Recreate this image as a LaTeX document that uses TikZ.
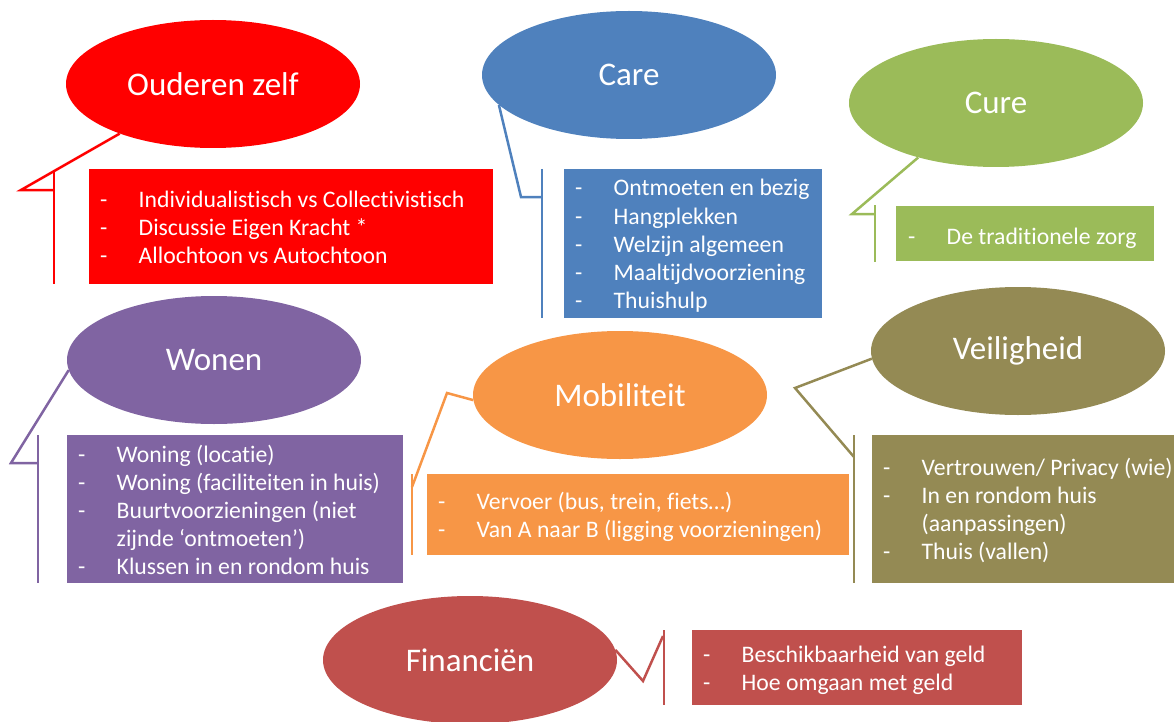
\documentclass[tikz,border=0pt]{standalone}
\usepackage{fontspec}
\setmainfont{Carlito}[Ligatures=NoCommon]
\usetikzlibrary{shapes.geometric}
\definecolor{cRed}{HTML}{FF0000}
\definecolor{cBlue}{HTML}{4F81BD}
\definecolor{cGreen}{HTML}{9BBB59}
\definecolor{cPurple}{HTML}{8064A2}
\definecolor{cOrange}{HTML}{F79646}
\definecolor{cOlive}{HTML}{948A54}
\definecolor{cFin}{HTML}{C0504D}
\newcommand\itm[1]{\makebox[38.5pt][l]{-}#1}
\newcommand\cont[1]{\makebox[38.5pt][l]{}#1}
\begin{document}
\begin{tikzpicture}[x=1pt,y=-1pt,
  ell/.style={ellipse,fill=#1,draw=none,minimum width=294pt,minimum height=128pt,inner sep=0pt,text=white,font=\fontsize{33}{40}\selectfont},
  bbox/.style={rectangle,fill=#1,draw=none,anchor=north west,inner sep=0pt},
  cline/.style={draw=#1,line width=2.5pt,line join=miter},
  item/.style={anchor=base west,text=white,inner sep=0pt,font=\fontsize{23.7}{28}\selectfont},
]
\useasboundingbox (0,0) rectangle (1174,722);

% ---------- Ouderen zelf ----------
\node[ell=cRed] (oz) at (213,84) {Ouderen zelf};
\node[bbox=cRed,minimum width=404pt,minimum height=115pt] (ozb) at (89,169) {};
\coordinate (ozk) at (21,190); \coordinate (ozj) at (54,190);
\coordinate (ozt) at (54,171); \coordinate (ozu) at (54,284);
\draw[cline=cRed] (oz.208) -- (ozk) -- (ozj);
\draw[cline=cRed] (ozt) -- (ozu);
\node[item] (oz1) at (100,207) {\itm{Individualistisch vs Collectivistisch}};
\node[item] (oz2) at (100,235) {\itm{Discussie Eigen Kracht *}};
\node[item] (oz3) at (100,263) {\itm{Allochtoon vs Autochtoon}};

% ---------- Care ----------
\node[ell=cBlue] (care) at (629,75) {Care};
\node[bbox=cBlue,minimum width=258pt,minimum height=149pt] (careb) at (564,169) {};
\coordinate (cak) at (521,197); \coordinate (caj) at (542,197);
\coordinate (cat) at (542,169); \coordinate (cau) at (542,318);
\draw[cline=cBlue] (care.193) -- (cak) -- (caj);
\draw[cline=cBlue] (cat) -- (cau);
\node[item] (ca1) at (575,196) {\itm{Ontmoeten en bezig}};
\node[item] (ca2) at (575,224) {\itm{Hangplekken}};
\node[item] (ca3) at (575,252) {\itm{Welzijn algemeen}};
\node[item] (ca4) at (575,280) {\itm{Maaltijdvoorziening}};
\node[item] (ca5) at (575,308) {\itm{Thuishulp}};

% ---------- Cure ----------
\node[ell=cGreen] (cure) at (996,103) {Cure};
\node[bbox=cGreen,minimum width=258pt,minimum height=55pt] (cureb) at (896,206) {};
\coordinate (cuk) at (852,214); \coordinate (cuj) at (875,214);
\coordinate (cut) at (875,205); \coordinate (cuu) at (875,262);
\draw[cline=cGreen] (cure.215) -- (cuk) -- (cuj);
\draw[cline=cGreen] (cut) -- (cuu);
\node[item] (cu1) at (908,244) {\itm{De traditionele zorg}};

% ---------- Wonen ----------
\node[ell=cPurple] (won) at (214,360) {Wonen};
\node[bbox=cPurple,minimum width=336pt,minimum height=148pt] (wonb) at (67,435) {};
\coordinate (wok) at (11,463); \coordinate (woj) at (38,463);
\coordinate (wot) at (38,435); \coordinate (wou) at (38,583);
\draw[cline=cPurple] (won.184) -- (wok) -- (woj);
\draw[cline=cPurple] (wot) -- (wou);
\node[item] (wo1) at (78,462) {\itm{Woning (locatie)}};
\node[item] (wo2) at (78,490) {\itm{Woning (faciliteiten in huis)}};
\node[item] (wo3) at (78,518) {\itm{Buurtvoorzieningen (niet}};
\node[item] (wo4) at (78,546) {\cont{zijnde ‘ontmoeten’)}};
\node[item] (wo5) at (78,574) {\itm{Klussen in en rondom huis}};

% ---------- Mobiliteit ----------
\node[ell=cOrange] (mob) at (620,395) {Mobiliteit};
\node[bbox=cOrange,minimum width=422pt,minimum height=81pt] (mobb) at (427,474) {};
\coordinate (mok) at (447,393); \coordinate (moj) at (412,487);
\coordinate (mot) at (412,474); \coordinate (mou) at (412,555);
\draw[cline=cOrange] (mob.182) -- (mok) -- (moj);
\draw[cline=cOrange] (mot) -- (mou);
\node[item] (mo1) at (438,509) {\itm{Vervoer (bus, trein, fiets…)}};
\node[item] (mo2) at (438,537) {\itm{Van A naar B (ligging voorzieningen)}};

% ---------- Veiligheid ----------
\node[ell=cOlive] (veil) at (1018,351) {Veiligheid};
\node[bbox=cOlive,minimum width=302pt,minimum height=148pt] (veilb) at (872,435) {};
\coordinate (vek) at (795,388); \coordinate (vej) at (854,457);
\coordinate (vet) at (854,435); \coordinate (veu) at (854,583);
\draw[cline=cOlive] (veil.183) -- (vek) -- (vej);
\draw[cline=cOlive] (vet) -- (veu);
\node[item] (ve1) at (883,475) {\itm{Vertrouwen/ Privacy (wie)}};
\node[item] (ve2) at (883,503) {\itm{In en rondom huis}};
\node[item] (ve3) at (883,531) {\cont{(aanpassingen)}};
\node[item] (ve4) at (883,559) {\itm{Thuis (vallen)}};

% ---------- Financien ----------
\node[ell=cFin] (fin) at (470,660) {Financiën};
\node[bbox=cFin,minimum width=330pt,minimum height=75pt] (finb) at (692,630) {};
\coordinate (fik) at (643,681); \coordinate (fij) at (663,636);
\coordinate (fit) at (664,630); \coordinate (fiu) at (664,705);
\draw[cline=cFin] (fin.4) -- (fik) -- (fij);
\draw[cline=cFin] (fit) -- (fiu);
\node[item] (fi1) at (703,662) {\itm{Beschikbaarheid van geld}};
\node[item] (fi2) at (703,690) {\itm{Hoe omgaan met geld}};
\end{tikzpicture}
\end{document}
